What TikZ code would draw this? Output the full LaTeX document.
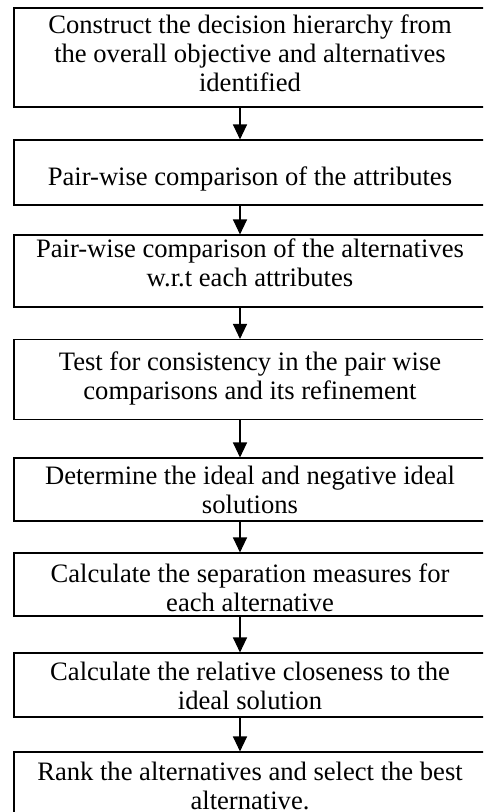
\documentclass[tikz,border=0pt]{standalone}
\usepackage{fontspec}
\setmainfont{Liberation Serif}
\usetikzlibrary{arrows.meta,calc}

\begin{document}
\begin{tikzpicture}[x=1pt,y=-1pt,
  stepbox/.style={draw,line width=1.1pt,minimum width=473pt,inner sep=0pt},
  steptext/.style={anchor=north,inner sep=0pt,align=center,font=\fontsize{26.6}{29}\selectfont},
  flow/.style={line width=1.1pt,-{Triangle[width=14pt,length=15pt]}}]
\useasboundingbox (0,0) rectangle (483,812);
\clip (0,0) rectangle (483,812);
% boxes
\node[stepbox,minimum height=99pt] (b1) at (250.5,57.5) {};
\node[stepbox,minimum height=65pt] (b2) at (250.5,172.5) {};
\node[stepbox,minimum height=72pt] (b3) at (250.5,271) {};
\node[stepbox,minimum height=80pt] (b4) at (250.5,379.5) {};
\node[stepbox,minimum height=63pt] (b5) at (250.5,489.5) {};
\node[stepbox,minimum height=63pt] (b6) at (250.5,584.5) {};
\node[stepbox,minimum height=64pt] (b7) at (250.5,685) {};
\node[stepbox,minimum height=64pt] (b8) at (250.5,784) {};
% texts
\node[steptext] (t1) at (250,14.5) {Construct the decision hierarchy from\\the overall objective and alternatives\\identified};
\node[steptext] (t2) at (250,166.5) {Pair-wise comparison of the attributes};
\node[steptext] (t3) at (250,238.5) {Pair-wise comparison of the alternatives\\w.r.t each attributes};
\node[steptext] (t4) at (250,351.5) {Test for consistency in the pair wise\\comparisons and its refinement};
\node[steptext] (t5) at (250,465.5) {Determine the ideal and negative ideal\\solutions};
\node[steptext] (t6) at (250,563.5) {Calculate the separation measures for\\each alternative};
\node[steptext] (t7) at (250,661.5) {Calculate the relative closeness to the\\ideal solution};
\node[steptext] (t8) at (250,761.5) {Rank the alternatives and select the best\\alternative.};
% arrows
\coordinate (ax) at (240,0);
\foreach \i/\j in {1/2,2/3,3/4,4/5,5/6,6/7,7/8}
  \draw[flow] (b\i.south -| ax) -- (b\j.north -| ax);
\end{tikzpicture}
\end{document}
